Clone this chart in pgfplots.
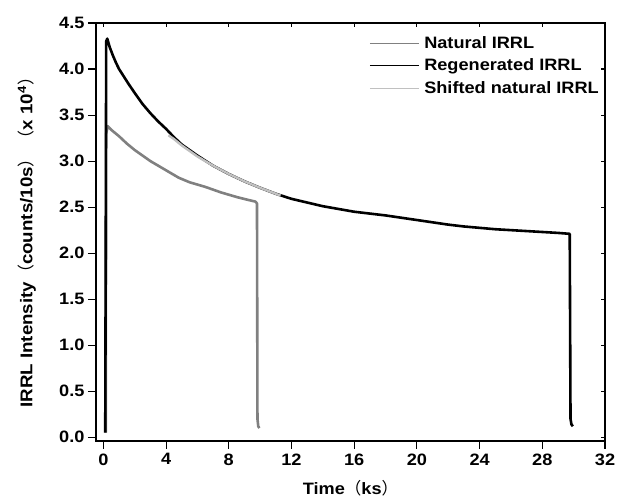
\documentclass[border=0pt]{standalone}
\usepackage{pgfplots}
\pgfplotsset{compat=1.18}
\usepackage{fontspec}
\setmainfont{Liberation Sans}[FakeStretch=1.1]
\newfontfamily\cjk{Noto Sans CJK SC}
\usetikzlibrary{calc}
\definecolor{natgray}{RGB}{128,128,128}
\definecolor{shiftgray}{RGB}{192,192,192}
\newcommand{\lp}{{\cjk\mdseries （}}
\newcommand{\rp}{{\cjk\mdseries ）}}
\newcommand{\chfont}{\fontsize{16.5}{18}\selectfont\bfseries}
\begin{document}
\begin{tikzpicture}
\begin{axis}[name=main,
  scale only axis, width=509pt, height=418pt,
  xmin=-0.47, xmax=32, ymin=-0.04, ymax=4.5,
  xtick={0,4,...,32}, ytick={0,0.5,1,1.5,2,2.5,3,3.5,4,4.5},
  tick align=outside, xtick pos=bottom, ytick pos=left,
  major tick length=8pt,
  axis line style={line width=1.1pt},
  every tick/.style={black, line width=1.1pt},
  /pgf/number format/assume math mode=true,
  yticklabel style={/pgf/number format/.cd, fixed, fixed zerofill, precision=1},
  tick label style={font=\chfont},
  xticklabel style={yshift=-1pt},
  xlabel={Time\lp ks\rp},
  ylabel={IRRL Intensity\lp counts/10s\rp\hspace{3pt}\lp x 10\textsuperscript{4}\rp},
  label style={font=\chfont},
  xlabel style={at={(axis description cs:0.5,-0.129)}, anchor=base},
  ylabel style={at={(axis description cs:-0.1356,0.485)}, anchor=center, font=\fontsize{17}{19}\selectfont\bfseries},
  legend style={draw=none, fill=none, at={(rel axis cs:0.992,0.973)}, anchor=north east,
    font=\chfont, inner sep=0pt, row sep=5pt,
    cells={anchor=west}},
  legend image code/.code={\draw[#1, line width=1pt] (0pt,0pt) -- (49pt,0pt); \path (51pt,0pt);},
  legend cell align=left,
]
\addplot[natgray, line width=2.6pt, line join=round] coordinates {
(0.15,0.05) (0.18,3.3) (0.28,3.38) (0.5,3.34) (1,3.27) (1.5,3.19) (2,3.12) (2.5,3.06) (3,3.0) (3.5,2.95) (4,2.9) (4.8,2.82) (5.5,2.77) (6.5,2.72) (7.5,2.66) (8.5,2.61) (9.2,2.58) (9.7,2.56) (9.8,2.54) (9.82,1.0) (9.83,0.2) (9.88,0.12) (9.95,0.1)
};
\addlegendentry{Natural IRRL}
\addplot[black, line width=2.6pt, line join=round] coordinates {
(0.12,0.05) (0.15,2) (0.18,4.3) (0.25,4.33) (0.4,4.24) (0.6,4.15) (0.8,4.07) (1.0,4.0) (1.3,3.92) (1.6,3.84) (2.0,3.74) (2.5,3.62) (3.0,3.52) (3.5,3.43) (4.0,3.35) (4.5,3.26) (5,3.18) (6,3.06) (7,2.95) (8,2.86) (9,2.78) (10,2.71) (11,2.645) (12,2.59) (13,2.55) (14,2.51) (15,2.48) (16,2.45) (17,2.43) (18,2.41) (19,2.385) (20,2.36) (21,2.335) (22,2.31) (23,2.29) (24,2.275) (25,2.26) (26,2.25) (27,2.24) (28,2.23) (29,2.22) (29.75,2.21) (29.78,1.0) (29.8,0.2) (29.86,0.14) (29.95,0.12)
};
\addlegendentry{Regenerated IRRL}
\addplot[shiftgray, line width=2.4pt, line join=round] coordinates {
(4.15,3.28) (4.5,3.24) (5,3.17) (6,3.05) (7,2.95) (8,2.86) (9,2.78) (10,2.71) (11,2.645) (11.3,2.625)
};
\addlegendentry{Shifted natural IRRL}
\end{axis}
\begin{axis}[
  scale only axis, width=509pt, height=418pt,
  xmin=-0.47, xmax=32, ymin=-0.04, ymax=4.5,
  xtick={0,4,...,32}, ytick={0,0.5,1,1.5,2,2.5,3,3.5,4,4.5},
  tick align=inside, xtick pos=right, ytick pos=right,
  major tick length=4pt,
  xticklabels={}, yticklabels={},
  axis line style={line width=1.1pt},
  every tick/.style={black, line width=1.1pt},
]
\end{axis}
\pgfresetboundingbox
\path ($(main.south west)+(-96pt,-58pt)$) rectangle ($(main.north east)+(12pt,23pt)$);
\end{tikzpicture}
\end{document}
